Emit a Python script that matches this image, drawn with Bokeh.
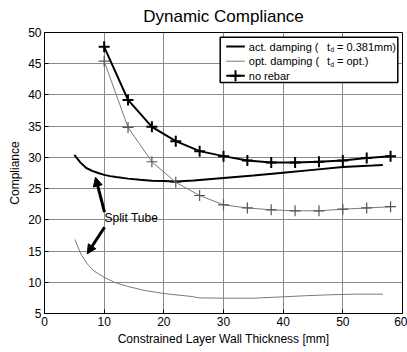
from bokeh.plotting import figure
from bokeh.models import Range1d, FixedTicker, Arrow, NormalHead
from bokeh.core.properties import value
from bokeh.embed import file_html
from bokeh.resources import INLINE

# ---------------- data ----------------
x_ticks = [0, 10, 20, 30, 40, 50, 60]
y_ticks = [5, 10, 15, 20, 25, 30, 35, 40, 45, 50]

# no rebar (markers)
x_norebar = [10, 14, 18, 22, 26, 30, 34, 38, 42, 46, 50, 54, 58]
act_norebar = [47.7, 39.2, 34.9, 32.6, 31.0, 30.2, 29.5, 29.2, 29.2, 29.3, 29.5, 29.9, 30.2]
opt_norebar = [45.4, 34.8, 29.3, 26.0, 23.9, 22.4, 21.9, 21.6, 21.45, 21.45, 21.7, 21.9, 22.1]

# split tube, actual damping (thick line)
x_split_act = [5, 6, 7, 8, 9, 10, 11, 12, 14, 16, 18, 20, 22, 25, 30, 35, 40, 45, 50, 55, 56.7]
split_act = [30.4, 29.2, 28.3, 27.85, 27.5, 27.2, 27.0, 26.85, 26.6, 26.4, 26.25, 26.2, 26.15,
             26.3, 26.7, 27.1, 27.55, 28.0, 28.45, 28.7, 28.8]

# split tube, optimal damping (thin line)
x_split_opt = [5.1, 6.1, 7.2, 8.3, 10, 11.7, 13.9, 16.7, 20, 24.4, 26, 30, 35, 39.6, 43.8, 48, 52.1, 56.7]
split_opt = [16.85, 14.5, 12.9, 11.8, 10.8, 10.0, 9.35, 8.7, 8.2, 7.75, 7.5, 7.45, 7.45, 7.65,
             7.85, 8.0, 8.1, 8.1]

FONT = "Liberation Sans"
THIN = "#7a7a7a"

# ---------------- figure ----------------
p = figure(width=407, height=352, x_range=Range1d(0, 60), y_range=Range1d(5, 50),
           output_backend="svg", toolbar_location=None, title="Dynamic Compliance",
           min_border_left=44, min_border_right=5, min_border_top=32, min_border_bottom=39)

p.title.align = "center"
p.title.vertical_align = "top"
p.title.text_font = FONT
p.title.text_font_size = "17px"
p.title.text_font_style = "normal"
p.title.text_color = "black"

p.xaxis.ticker = FixedTicker(ticks=x_ticks)
p.yaxis.ticker = FixedTicker(ticks=y_ticks)
p.xaxis.axis_label = "Constrained Layer Wall Thickness [mm]"
p.yaxis.axis_label = "Compliance"
for ax in (p.xaxis, p.yaxis):
    ax.axis_label_text_font = FONT
    ax.axis_label_text_font_size = "12px"
    ax.axis_label_text_font_style = "normal"
    ax.axis_label_text_color = "black"
    ax.major_label_text_font = FONT
    ax.major_label_text_font_size = "12px"
    ax.major_label_text_color = "black"
    ax.major_tick_in = 4
    ax.major_tick_out = 0
    ax.minor_tick_line_color = None
    ax.axis_line_color = "black"
    ax.major_tick_line_color = "black"
    ax.major_label_standoff = 3
    ax.axis_label_standoff = 3

p.grid.grid_line_color = "#8a8a8a"
p.grid.grid_line_width = 1
p.outline_line_color = "black"
p.outline_line_alpha = 1.0
p.outline_line_width = 1
p.background_fill_color = "white"
p.border_fill_color = "white"

# ---------------- curves ----------------
p.line(x_split_act, split_act, line_color="black", line_width=2)
p.line(x_split_opt, split_opt, line_color=THIN, line_width=1)
p.line(x_norebar, opt_norebar, line_color=THIN, line_width=1)
p.scatter(x_norebar, opt_norebar, marker="cross", size=11, line_color="#555555", line_width=1.2)
p.line(x_norebar, act_norebar, line_color="black", line_width=2)
p.scatter(x_norebar, act_norebar, marker="cross", size=11, line_color="black", line_width=2)


# ---------------- legend (manual, to allow subscript) ----------------
def dx(px):
    return (px - 44) * 60.0 / 358.0


def dy(py):
    return 50.0 - (py - 32) * 45.0 / 281.0


p.quad(left=[dx(219.7)], right=[dx(397.3)], top=[dy(36.7)], bottom=[dy(82)],
       fill_color="white", line_color="black", line_width=1.5)
rows = [46, 60.7, 75.3]
p.line([dx(225.7), dx(244.3)], [dy(rows[0])] * 2, line_color="black", line_width=2)
p.line([dx(225.7), dx(244.3)], [dy(rows[1])] * 2, line_color=THIN, line_width=1)
p.line([dx(225.7), dx(244.3)], [dy(rows[2])] * 2, line_color="black", line_width=2)
p.scatter([dx(235)], [dy(rows[2])], marker="cross", size=11, line_color="black", line_width=2)

p.text(x=[dx(248.3), dx(326.5), dx(336.5), dx(248.3), dx(326.5), dx(336.5), dx(248.3)],
       y=[dy(rows[0]), dy(rows[0]), dy(rows[0]), dy(rows[1]), dy(rows[1]), dy(rows[1]), dy(rows[2])],
       text=["act. damping (", "t", "= 0.381mm)", "opt. damping (", "t", "= opt.)", "no rebar"],
       text_font=value(FONT), text_font_size="11px", text_baseline="middle", text_align="left",
       text_color="black")
p.text(x=[dx(330), dx(330)], y=[dy(rows[0] + 3), dy(rows[1] + 3)], text=["d", "d"],
       text_font=value(FONT), text_font_size="6.5px", text_baseline="middle", text_align="left",
       text_color="black")

# ---------------- annotation ----------------
p.text(x=[dx(104)], y=[dy(217.7)], text=["Split Tube"], text_font=value(FONT),
       text_font_size="12px", text_baseline="middle", text_align="left", text_color="black")
p.add_layout(Arrow(x_start=dx(104), y_start=dy(211.7), x_end=dx(95), y_end=dy(176.7),
                   line_width=3, line_color="black",
                   end=NormalHead(size=9, fill_color="black", line_color="black")))
p.add_layout(Arrow(x_start=dx(104), y_start=dy(226.7), x_end=dx(86.7), y_end=dy(253.3),
                   line_width=3, line_color="black",
                   end=NormalHead(size=9, fill_color="black", line_color="black")))

open("out.html", "w").write(file_html(p, INLINE))
